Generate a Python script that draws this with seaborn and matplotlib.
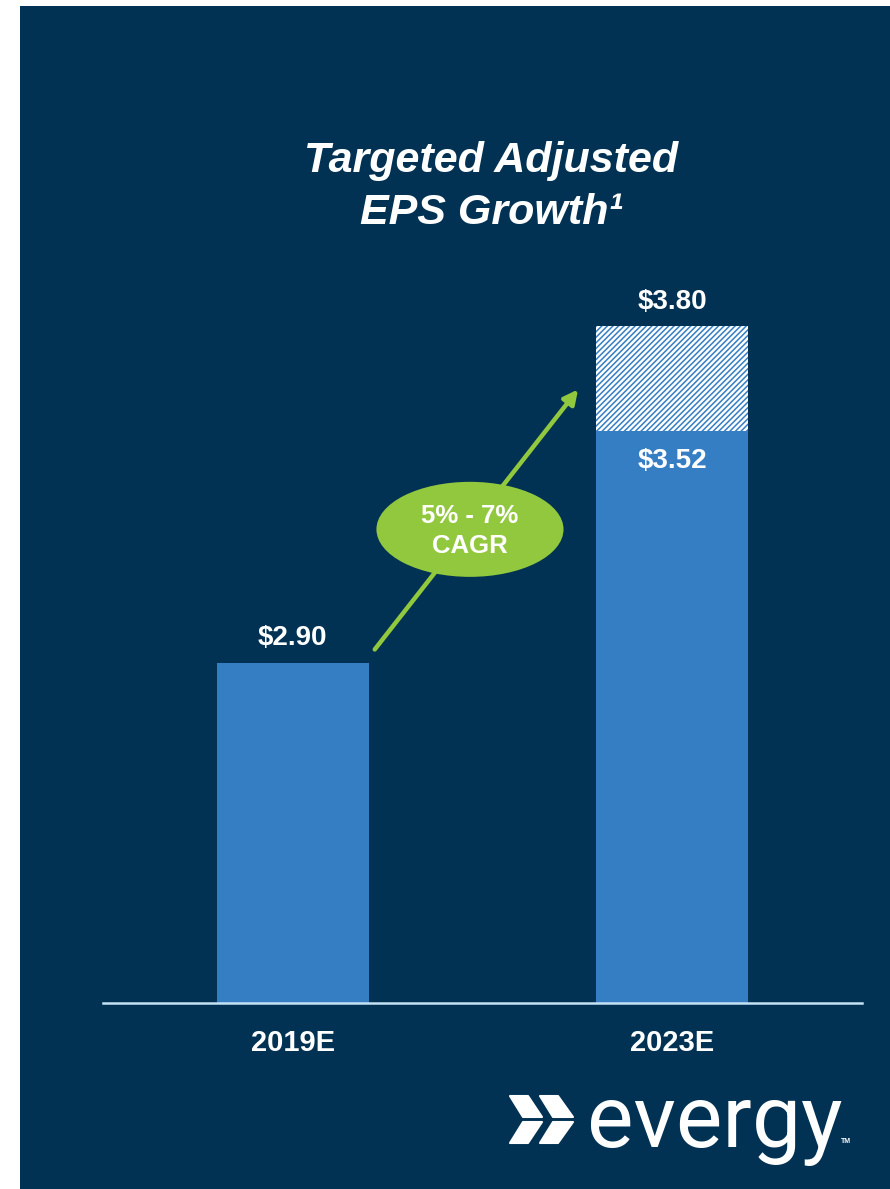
import matplotlib
matplotlib.use("Agg")
import matplotlib.pyplot as plt
import seaborn as sns
import pandas as pd
from matplotlib.patches import Rectangle, Ellipse, Polygon

# data
years = ["2019E", "2023E"]
base_eps = [2.90, 3.52]
target_eps = [2.90, 3.80]
cagr_text = "5% - 7%\nCAGR"

NAVY = "#023253"
BLUE = "#357ec3"
GREEN = "#92c83e"
LINE = "#c5e3f6"

sns.set_theme(style="white")
plt.rcParams["font.family"] = ["Liberation Sans", "DejaVu Sans"]
plt.rcParams["hatch.linewidth"] = 1.1

W, H = 890, 1189
fig = plt.figure(figsize=(W / 100, H / 100), dpi=100, facecolor="white")


def fx(x):
    return x / W


def fy(y):
    return 1 - y / H


# navy panel behind everything
fig.patches.append(Rectangle((fx(20), 0), fx(W - 20), fy(6), transform=fig.transFigure,
                             facecolor=NAVY, edgecolor="none", zorder=-5))

ax = fig.add_axes([fx(103), fy(1003), fx(862 - 103), 752 / H])
ax.set_facecolor("none")

df = pd.DataFrame({"year": years, "base": base_eps, "target": target_eps})

# hatched upside first, solid base on top
sns.barplot(data=df, x="year", y="target", ax=ax, width=0.4, color="white",
            edgecolor=BLUE, linewidth=0, hatch="//////", saturation=1)
sns.barplot(data=df, x="year", y="base", ax=ax, width=0.4, color=BLUE,
            linewidth=0, saturation=1)

ax.set_ylim(1.99, 4.0)
ax.set_xlim(-0.5, 1.5)
ax.set_xlabel("")
ax.set_ylabel("")
ax.set_yticks([])
for s in ["top", "right", "left"]:
    ax.spines[s].set_visible(False)
ax.spines["bottom"].set_color(LINE)
ax.spines["bottom"].set_linewidth(1.8)
ax.tick_params(axis="x", length=0, pad=19)
for lbl in ax.get_xticklabels():
    lbl.set_color("white")
    lbl.set_fontsize(21)
    lbl.set_fontweight("bold")

# value labels
for i, (b, t) in enumerate(zip(base_eps, target_eps)):
    if t > b:
        ax.annotate(f"${t:.2f}", (i, t), xytext=(0, 17), textcoords="offset points",
                    ha="center", va="center", color="white", fontsize=20, fontweight="bold")
        ax.annotate(f"${b:.2f}", (i, b), xytext=(0, -22), textcoords="offset points",
                    ha="center", va="center", color="white", fontsize=20, fontweight="bold")
    else:
        ax.annotate(f"${b:.2f}", (i, b), xytext=(0, 18), textcoords="offset points",
                    ha="center", va="center", color="white", fontsize=20, fontweight="bold")

# growth arrow + CAGR bubble
ax.annotate("", xy=(0.752, 3.63), xytext=(0.216, 2.935),
            arrowprops=dict(arrowstyle="-|>,head_length=0.7,head_width=0.35",
                            color=GREEN, lw=3.2, shrinkA=0, shrinkB=0), zorder=4)
ax.add_patch(Ellipse((0.467, 3.256), 0.493, 0.254, facecolor=GREEN, edgecolor="none",
                     zorder=5))
ax.text(0.467, 3.252, cagr_text, ha="center", va="center", color="white", fontsize=18.5,
        fontweight="bold", linespacing=1.3, zorder=6)

# title
fig.text(fx(491), fy(187), "Targeted Adjusted\nEPS Growth\u00b9", ha="center", va="center",
         color="white", fontsize=31, fontweight="bold", fontstyle="italic", linespacing=1.36)

# logo: four slanted pieces
pieces = [
    [(510, 1096), (528, 1096), (542, 1117), (523, 1117)],
    [(540, 1096), (558, 1096), (573, 1117), (553, 1117)],
    [(523, 1122), (542, 1122), (528, 1143), (510, 1143)],
    [(553, 1122), (573, 1122), (558, 1143), (540, 1143)],
]
for pts in pieces:
    fig.patches.append(Polygon([(fx(x), fy(y)) for x, y in pts], closed=True,
                               transform=fig.transFigure, facecolor="white",
                               edgecolor="white", linewidth=1.5, joinstyle="round",
                               zorder=3))
fig.text(fx(587), fy(1147), "evergy", ha="left", va="baseline", color="white",
         fontsize=63, family=["Roboto", "DejaVu Sans"])
fig.text(fx(841), fy(1143), "TM", ha="left", va="baseline", color="white",
         fontsize=5, fontweight="bold")

fig.savefig("out.png", dpi=100, facecolor="white")
